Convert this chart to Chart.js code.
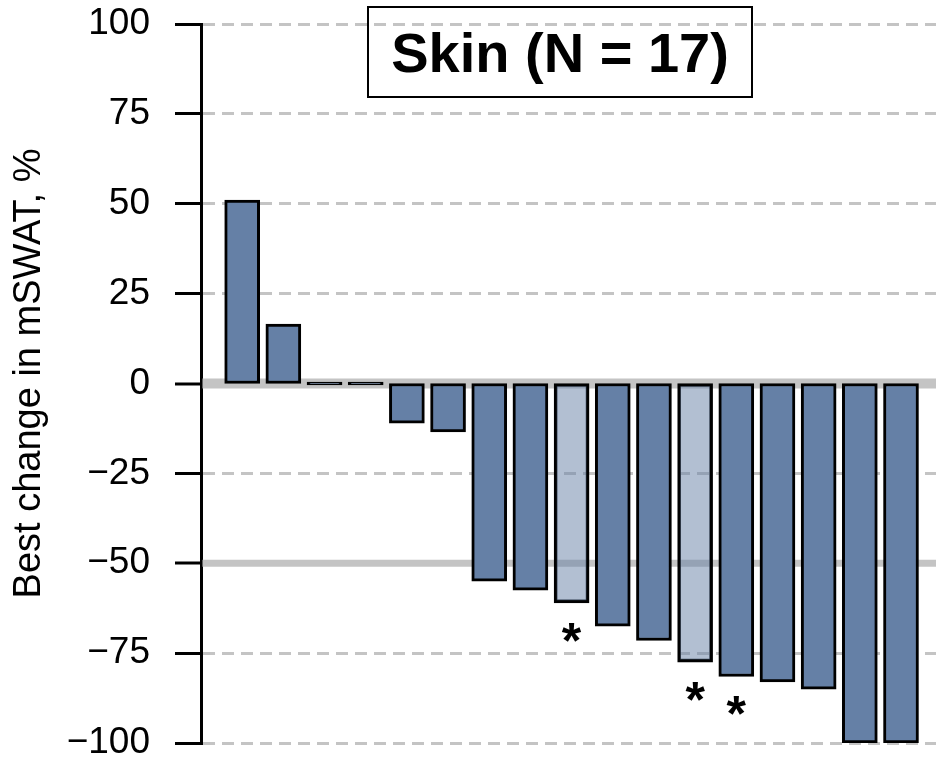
<!DOCTYPE html>
<html lang="en">
<head>
    <meta charset="UTF-8">
    <title>Skin (N = 17)</title>
    <script src="https://cdn.jsdelivr.net/npm/chart.js"></script>
    <style>
        body { margin: 0; background: #fff; }
        canvas { display: block; }
    </style>
</head>
<body>
<canvas id="waterfall" width="937" height="759"></canvas>

<script>
    // one bar per patient, sorted by best change
    const patients = [1, 2, 3, 4, 5, 6, 7, 8, 9, 10, 11, 12, 13, 14, 15, 16, 17];
    const bestChange = [51, 16.5, 0, 0, -11, -13.5, -55, -57.5, -61, -67.5, -71.5, -77.5, -81.5, -83, -85, -100, -100];
    const lightBars = [9, 12];          // lighter shade
    const starredBars = [9, 12, 13];    // marked with *
    const yTicks = [-100, -75, -50, -25, 0, 25, 50, 75, 100];
    const refLines = [0, -50];
    const yTitle = 'Best change in mSWAT, %';

    const FONT = '"Liberation Sans", Arial, sans-serif';
    const DARK = '#6580a6';
    const LIGHT = 'rgba(101, 128, 166, 0.5)';
    const GRID = '#c4c4c4';

    const isRef = c => c.tick && refLines.includes(c.tick.value);

    // thick reference lines under the bars, box title, axis title and asterisks on top
    const extras = {
        id: 'extras',
        beforeDatasetsDraw(chart) {
            const ctx = chart.ctx;
            const a = chart.chartArea;
            const y = chart.scales.y;
            ctx.save();
            ctx.strokeStyle = GRID;
            refLines.forEach(v => {
                ctx.lineWidth = v === 0 ? 10 : 7;
                const py = y.getPixelForValue(v);
                ctx.beginPath();
                ctx.moveTo(a.left + 1.5, py);
                ctx.lineTo(a.right, py);
                ctx.stroke();
            });
            ctx.restore();
        },
        afterDatasetsDraw(chart) {
            const ctx = chart.ctx;
            const x = chart.scales.x, y = chart.scales.y;
            ctx.save();
            ctx.fillStyle = '#000';
            ctx.font = 'bold 50px ' + FONT;
            ctx.textAlign = 'center';
            ctx.textBaseline = 'alphabetic';
            starredBars.forEach(p => {
                const i = patients.indexOf(p);
                ctx.fillText('*', x.getPixelForValue(p), y.getPixelForValue(bestChange[i]) + 55);
            });
            ctx.restore();
        },
        afterDraw(chart) {
            const ctx = chart.ctx;
            const a = chart.chartArea;
            ctx.save();
            ctx.strokeStyle = '#000';
            ctx.lineWidth = 2;
            ctx.strokeRect(a.left + 167, a.top - 17, 384, 90);
            ctx.fillStyle = '#000';
            ctx.font = 'bold 56px ' + FONT;
            ctx.textAlign = 'center';
            ctx.textBaseline = 'alphabetic';
            ctx.fillText('Skin (N = 17)', a.left + 359, a.top + 47.5);

            // y axis title, a little above the axis middle as in the original
            ctx.translate(a.left - 171, (a.top + a.bottom) / 2 - 10);
            ctx.rotate(-Math.PI / 2);
            ctx.font = '38px ' + FONT;
            ctx.textBaseline = 'middle';
            ctx.fillText(yTitle, 0, 0);
            ctx.restore();
        }
    };

    new Chart(document.getElementById('waterfall'), {
        type: 'bar',
        data: {
            labels: patients,
            datasets: [{
                data: bestChange,
                backgroundColor: patients.map(p => lightBars.includes(p) ? LIGHT : DARK),
                borderColor: '#000',
                borderWidth: 3,
                borderSkipped: false,
                barThickness: 35,
                minBarLength: 3
            }]
        },
        options: {
            responsive: false,
            animation: false,
            layout: { padding: { left: 0, right: 1, top: 24, bottom: 16 } },
            plugins: { legend: { display: false }, tooltip: { enabled: false } },
            scales: {
                x: { type: 'linear', min: 0, max: 17.85, offset: false, grid: { offset: false }, display: false },
                y: {
                    min: -100,
                    max: 100,
                    afterBuildTicks: s => { s.ticks = yTicks.map(v => ({ value: v })); },
                    afterFit: s => { s.width = 201; s.paddingTop = 0; s.paddingBottom = 0; },
                    ticks: {
                        color: '#000',
                        padding: 25,
                        font: { family: FONT, size: 37 },
                        callback: v => String(v).replace('-', '\u2212')
                    },
                    grid: {
                        color: c => isRef(c) ? 'rgba(0,0,0,0)' : GRID,
                        lineWidth: c => isRef(c) ? 0 : 3,
                        tickLength: 26,
                        tickWidth: 3,
                        tickColor: '#000'
                    },
                    border: {
                        display: true,
                        color: '#000',
                        width: 3,
                        dash: c => (c.tick && !isRef(c)) ? [12, 7] : []
                    }
                }
            }
        },
        plugins: [extras]
    });
</script>
</body>
</html>
